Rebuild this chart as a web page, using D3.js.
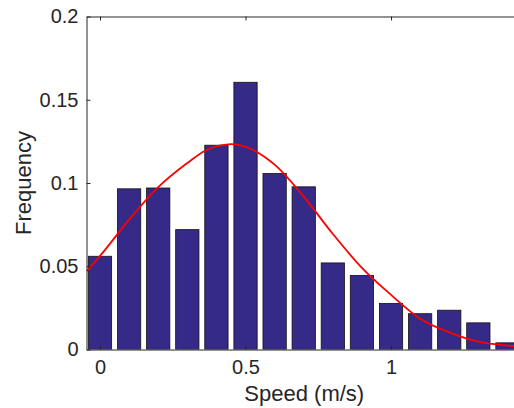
<!DOCTYPE html>
<html>
<head>
<meta charset="utf-8">
<script src="https://cdn.jsdelivr.net/npm/d3@7"></script>
<style>
  html, body { margin: 0; padding: 0; background: #fff; }
  svg { display: block; }
  text { font-family: "Liberation Sans", Arial, sans-serif; fill: #262626; }
</style>
</head>
<body>
<svg id="chart" width="514" height="408"></svg>
<script>
// ---- data ----
const binCenters = [0, 0.1, 0.2, 0.3, 0.4, 0.5, 0.6, 0.7, 0.8, 0.9, 1.0, 1.1, 1.2, 1.3, 1.4];
const frequencies = [0.056, 0.0965, 0.097, 0.072, 0.1227, 0.1605, 0.1057, 0.0977, 0.052, 0.0445, 0.0277, 0.0215, 0.0236, 0.016, 0.004];
const curveX = [-0.046, 0, 0.1, 0.2, 0.3, 0.364, 0.433, 0.45, 0.515, 0.6, 0.7, 0.8, 0.9, 1.0, 1.1, 1.2, 1.3, 1.4, 1.45];
const curveY = [0.047, 0.0562, 0.078, 0.0975, 0.112, 0.1197, 0.1231, 0.1233, 0.1207, 0.111, 0.0918, 0.0694, 0.049, 0.0328, 0.0185, 0.0103, 0.0047, 0.0024, 0.0018];
const xTicks = [0, 0.5, 1];
const xTickLabels = ["0", "0.5", "1"];
const yTicks = [0, 0.05, 0.1, 0.15, 0.2];
const yTickLabels = ["0", "0.05", "0.1", "0.15", "0.2"];
const xLabel = "Speed (m/s)";
const yLabel = "Frequency";

(function () {
  const svg = d3.select("#chart");
  const mLeft = 86.5, mRight = 522, mTop = 16.5, mBottom = 349.5;
  const x = d3.scaleLinear().domain([-0.0464, 1.45]).range([mLeft, mRight]);
  const y = d3.scaleLinear().domain([0, 0.2]).range([mBottom, mTop]);
  const barW = x(0.08) - x(0);

  svg.append("defs").append("clipPath").attr("id", "plotclip")
    .append("rect").attr("x", mLeft).attr("y", mTop).attr("width", mRight - mLeft).attr("height", mBottom - mTop);

  const plot = svg.append("g").attr("clip-path", "url(#plotclip)");

  plot.selectAll("rect.bar").data(binCenters).enter().append("rect")
    .attr("class", "bar")
    .attr("x", (d) => x(d) - barW / 2)
    .attr("y", (d, i) => y(frequencies[i]))
    .attr("width", barW)
    .attr("height", (d, i) => y(0) - y(frequencies[i]))
    .attr("fill", "rgb(53,42,135)")
    .attr("stroke", "#111")
    .attr("stroke-width", 0.8);

  const line = d3.line()
    .x((d, i) => x(curveX[i]))
    .y((d, i) => y(curveY[i]))
    .curve(d3.curveMonotoneX);
  plot.append("path")
    .attr("d", line(curveX))
    .attr("fill", "none")
    .attr("stroke", "#ff0000")
    .attr("stroke-width", 1.8);

  const yAxis = d3.axisLeft(y).tickValues(yTicks).tickFormat((d, i) => yTickLabels[i]).tickSizeInner(-4).tickSizeOuter(0).tickPadding(8);
  const gy = svg.append("g").attr("transform", `translate(${mLeft},0)`).call(yAxis);
  const xAxis = d3.axisBottom(x).tickValues(xTicks).tickFormat((d, i) => xTickLabels[i]).tickSizeInner(-4).tickSizeOuter(0).tickPadding(10);
  const gx = svg.append("g").attr("transform", `translate(0,${mBottom})`).call(xAxis);
  const xTop = d3.axisTop(x).tickValues(xTicks).tickFormat("").tickSizeInner(-4).tickSizeOuter(0);
  const gt = svg.append("g").attr("transform", `translate(0,${mTop})`).call(xTop);
  const yRight = d3.axisRight(y).tickValues(yTicks).tickFormat("").tickSizeInner(-4).tickSizeOuter(0);
  const gr = svg.append("g").attr("transform", `translate(${mRight},0)`).call(yRight);

  [gy, gx, gt, gr].forEach(g => {
    g.select(".domain").attr("stroke", "#262626").attr("stroke-width", 1);
    g.selectAll(".tick line").attr("stroke", "#262626").attr("stroke-width", 1);
    g.selectAll(".tick text").style("font-size", "20px").attr("fill", "#262626")
      .style("font-family", '"Liberation Sans", Arial, sans-serif');
  });

  svg.append("text")
    .attr("x", (mLeft + mRight) / 2)
    .attr("y", 401)
    .attr("text-anchor", "middle")
    .style("font-size", "22px")
    .text(xLabel);

  svg.append("text")
    .attr("transform", `translate(31,${(mTop + mBottom) / 2}) rotate(-90)`)
    .attr("text-anchor", "middle")
    .style("font-size", "22px")
    .text(yLabel);
})();
</script>
</body>
</html>
